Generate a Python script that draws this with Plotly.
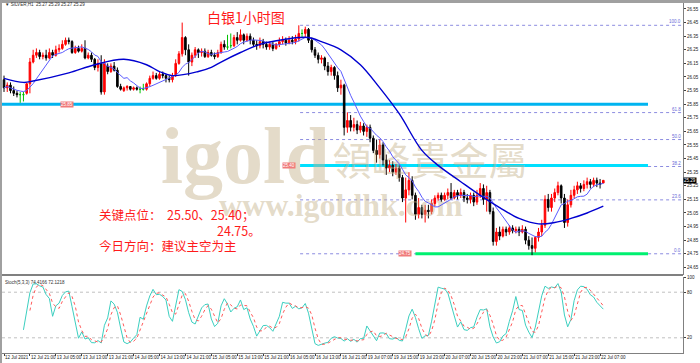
import plotly.graph_objects as go
import pandas as pd

# ---------------- data (SILVER H1) ----------------
open_ = [26.03,25.97,25.99,25.95,25.93,25.92,25.92,25.93,26.00,26.16,
         26.21,26.23,26.20,26.21,26.19,26.23,26.21,26.25,26.26,26.29,
         26.32,26.31,26.23,26.26,26.24,26.26,26.19,26.21,26.18,26.12,
         26.15,25.94,26.13,26.09,26.13,26.10,25.98,25.95,25.97,25.98,
         25.96,25.97,25.96,25.96,25.96,26.00,26.04,26.06,26.04,26.07,
         26.06,26.04,26.03,26.06,26.15,26.22,26.34,26.25,26.16,26.21,
         26.25,26.23,26.24,26.20,26.23,26.21,26.20,26.23,26.29,26.27,
         26.28,26.28,26.34,26.32,26.36,26.32,26.35,26.32,26.29,26.28,
         26.31,26.29,26.27,26.29,26.26,26.29,26.31,26.32,26.30,26.32,
         26.31,26.33,26.37,26.37,26.40,26.32,26.25,26.21,26.18,26.19,
         26.13,26.09,26.12,26.06,25.97,25.99,25.68,25.73,25.68,25.70,
         25.66,25.69,25.65,25.68,25.60,25.51,25.48,25.55,25.44,25.38,
         25.40,25.35,25.38,25.31,25.16,25.22,25.29,25.18,25.04,25.09,
         25.04,25.07,25.06,25.12,25.16,25.18,25.15,25.18,25.20,25.16,
         25.20,25.18,25.20,25.16,25.15,25.18,25.13,25.18,25.23,25.15,
         25.20,25.06,24.84,24.91,24.88,24.93,24.91,24.94,24.92,24.93,
         24.91,24.93,24.85,24.81,24.79,24.87,24.91,24.96,25.15,25.09,
         25.16,25.20,25.25,25.16,24.98,25.11,25.18,25.22,25.25,25.23,
         25.26,25.28,25.26,25.29,25.27,25.27]
high = [26.06,26.01,26.01,25.98,25.95,25.94,25.94,26.01,26.19,26.25,
        26.26,26.25,26.23,26.25,26.26,26.25,26.28,26.29,26.32,26.34,
        26.34,26.32,26.28,26.28,26.29,26.32,26.23,26.23,26.19,26.18,
        26.21,26.18,26.15,26.15,26.16,26.12,26.00,25.98,25.99,25.98,
        25.98,25.98,25.98,26.00,26.01,26.06,26.09,26.08,26.09,26.09,
        26.07,26.06,26.08,26.18,26.24,26.45,26.35,26.29,26.23,26.27,
        26.26,26.26,26.26,26.25,26.25,26.23,26.25,26.31,26.32,26.36,
        26.37,26.36,26.38,26.40,26.37,26.37,26.37,26.34,26.32,26.34,
        26.33,26.31,26.31,26.31,26.30,26.34,26.35,26.34,26.35,26.35,
        26.36,26.43,26.40,26.42,26.41,26.34,26.27,26.23,26.21,26.20,
        26.16,26.14,26.13,26.09,26.03,26.00,25.79,25.77,25.75,25.73,
        25.72,25.71,25.70,25.70,25.62,25.59,25.59,25.57,25.48,25.44,
        25.43,25.41,25.40,25.33,25.31,25.35,25.32,25.20,25.16,25.11,
        25.11,25.11,25.15,25.18,25.20,25.20,25.20,25.23,25.27,25.22,
        25.22,25.23,25.22,25.19,25.20,25.20,25.22,25.27,25.26,25.25,
        25.22,25.09,24.94,24.95,24.95,24.95,24.96,24.96,24.95,24.95,
        24.96,24.95,24.88,24.87,24.88,24.94,25.00,25.18,25.19,25.19,
        25.23,25.28,25.26,25.19,25.15,25.22,25.25,25.28,25.27,25.29,
        25.31,25.30,25.31,25.31,25.30,25.29]
low = [25.94,25.94,25.93,25.91,25.90,25.86,25.87,25.92,25.93,26.15,
       26.19,26.18,26.18,26.17,26.18,26.19,26.20,26.23,26.25,26.28,
       26.29,26.22,26.22,26.23,26.23,26.18,26.18,26.16,26.10,26.09,
       25.92,25.92,26.07,26.08,26.09,25.97,25.95,25.94,25.95,25.95,
       25.95,25.95,25.93,25.95,25.95,25.98,26.03,26.03,26.03,26.04,
       26.01,26.01,26.01,26.05,26.14,26.20,26.21,26.06,26.13,26.19,
       26.19,26.20,26.19,26.19,26.20,26.18,26.19,26.22,26.25,26.25,
       26.26,26.27,26.29,26.31,26.29,26.31,26.29,26.27,26.25,26.26,
       26.26,26.25,26.25,26.24,26.25,26.27,26.29,26.28,26.29,26.29,
       26.29,26.31,26.34,26.34,26.30,26.23,26.19,26.15,26.15,26.10,
       26.06,26.06,26.03,25.94,25.92,25.62,25.64,25.65,25.65,25.63,
       25.64,25.62,25.61,25.57,25.49,25.42,25.45,25.40,25.33,25.35,
       25.32,25.33,25.28,25.13,24.98,25.18,25.15,25.00,25.01,25.01,
       24.98,25.01,25.04,25.10,25.14,25.13,25.14,25.15,25.15,25.15,
       25.15,25.16,25.13,25.12,25.12,25.10,25.11,25.16,25.11,25.06,
       25.04,24.81,24.81,24.85,24.87,24.88,24.89,24.90,24.90,24.88,
       24.90,24.82,24.78,24.74,24.76,24.84,24.88,24.94,25.06,25.06,
       25.13,25.18,25.12,24.94,24.95,25.09,25.16,25.19,25.20,25.21,
       25.23,25.23,25.24,25.24,25.23,25.27]
close = [25.97,25.99,25.95,25.93,25.92,25.92,25.92,26.00,26.16,26.21,
         26.23,26.20,26.21,26.19,26.23,26.21,26.25,26.26,26.29,26.32,
         26.31,26.23,26.26,26.24,26.26,26.19,26.21,26.18,26.12,26.15,
         25.94,26.15,26.09,26.13,26.10,25.98,25.96,25.97,25.98,25.96,
         25.97,25.96,25.96,25.96,26.00,26.04,26.06,26.04,26.07,26.06,
         26.04,26.03,26.06,26.15,26.22,26.34,26.25,26.16,26.21,26.25,
         26.23,26.24,26.20,26.23,26.21,26.20,26.23,26.29,26.27,26.27,
         26.28,26.34,26.32,26.36,26.32,26.35,26.32,26.29,26.28,26.31,
         26.29,26.27,26.29,26.26,26.29,26.31,26.32,26.30,26.32,26.31,
         26.33,26.37,26.37,26.40,26.32,26.25,26.21,26.18,26.19,26.13,
         26.09,26.12,26.06,25.97,25.99,25.68,25.73,25.68,25.70,25.66,
         25.69,25.65,25.68,25.60,25.51,25.48,25.55,25.44,25.38,25.40,
         25.35,25.38,25.31,25.16,25.22,25.29,25.18,25.04,25.09,25.04,
         25.07,25.06,25.12,25.16,25.18,25.15,25.18,25.20,25.16,25.20,
         25.18,25.20,25.16,25.15,25.18,25.13,25.18,25.23,25.15,25.20,
         25.06,24.84,24.91,24.88,24.93,24.91,24.94,24.92,24.93,24.91,
         24.93,24.85,24.81,24.79,24.87,24.91,24.96,25.15,25.09,25.16,
         25.20,25.25,25.16,24.98,25.11,25.18,25.22,25.25,25.23,25.26,
         25.28,25.26,25.29,25.27,25.26,25.29]

# slow moving average, read at selected bars
ma_slow_bar = [0, 6, 9, 20, 28, 37, 44, 48, 52, 60, 64, 67, 73, 79, 85, 91, 94, 98,
               104, 110, 116, 122, 129, 134, 141, 147, 153, 159, 165, 170, 175, 180, 185]
ma_slow_val = [26.04, 26.01, 26.02, 26.08, 26.14, 26.18, 26.14, 26.09, 26.06, 26.09, 26.12,
               26.16, 26.23, 26.29, 26.32, 26.34, 26.34, 26.31, 26.25, 26.14, 25.97, 25.78,
               25.51, 25.40, 25.28, 25.18, 25.09, 25.01, 24.97, 24.98, 25.01, 25.05, 25.10]

tick_labels = ["12 Jul 2021", "12 Jul 21:00", "13 Jul 05:00", "13 Jul 13:00", "13 Jul 21:00",
               "14 Jul 05:00", "14 Jul 13:00", "14 Jul 21:00", "15 Jul 05:00", "15 Jul 13:00",
               "15 Jul 21:00", "16 Jul 05:00", "16 Jul 13:00", "16 Jul 21:00", "19 Jul 07:00",
               "19 Jul 15:00", "19 Jul 23:00", "20 Jul 07:00", "20 Jul 15:00", "20 Jul 23:00",
               "21 Jul 07:00", "21 Jul 15:00", "21 Jul 23:00", "22 Jul 07:00"]
price_ticks = [24.65, 24.75, 24.85, 24.95, 25.05, 25.15, 25.25, 25.35, 25.45, 25.55,
               25.65, 25.75, 25.85, 25.95, 26.05, 26.15, 26.25, 26.35, 26.45, 26.55]

support_levels = [25.85, 25.40, 24.75]
fib_high, fib_low = 26.43, 24.75
fib_levels = [100.0, 61.8, 50.0, 38.2, 23.6, 0.0]

# ---------------- derived ----------------
n = len(close)
bars = list(range(n))
df = pd.DataFrame({"o": open_, "h": high, "l": low, "c": close})
ma_fast = df.c.rolling(8, min_periods=1).mean()
ll = df.l.rolling(5).min()
hh = df.h.rolling(5).max()
k = 100 * (df.c - ll).rolling(3).sum() / (hh - ll).rolling(3).sum()
d = k.rolling(3).mean()

def subset(mask):
    idx = [i for i in bars if mask(i)]
    return (idx, [open_[i] for i in idx], [high[i] for i in idx],
            [low[i] for i in idx], [close[i] for i in idx])

fig = go.Figure()

# watermark (under candles)
wm = "rgba(195,175,135,0.45)"
fig.add_trace(go.Scatter(x=[74.5], y=[25.42], mode="text", text=["<b>igold</b>"],
                         textfont=dict(family="Liberation Serif", size=80, color=wm),
                         hoverinfo="skip", showlegend=False, xaxis="x", yaxis="y"))
fig.add_trace(go.Scatter(x=[131.5], y=[25.40], mode="text", text=["領峰貴金屬"],
                         textfont=dict(family="Noto Sans CJK TC", size=39, color=wm),
                         hoverinfo="skip", showlegend=False, xaxis="x", yaxis="y"))
fig.add_trace(go.Scatter(x=[104.0], y=[25.09], mode="text", text=["<b>www.igoldhk.com</b>"],
                         textfont=dict(family="Liberation Serif", size=32, color=wm),
                         hoverinfo="skip", showlegend=False, xaxis="x", yaxis="y"))

# candles
for mask, col in [
    (lambda i: close[i] > open_[i], "#ff0000"),
    (lambda i: close[i] < open_[i], "#000000"),
    (lambda i: close[i] == open_[i], "#00c000"),
]:
    xs, o, h, l, c = subset(mask)
    fig.add_trace(go.Candlestick(
        x=xs, open=o, high=h, low=l, close=c, xaxis="x", yaxis="y",
        increasing=dict(line=dict(color=col, width=1), fillcolor=col),
        decreasing=dict(line=dict(color=col, width=1), fillcolor=col),
        whiskerwidth=0, showlegend=False, hoverinfo="skip"))

fig.add_trace(go.Scatter(x=bars, y=ma_fast, mode="lines",
                         line=dict(color="#5a5aff", width=1), showlegend=False,
                         xaxis="x", yaxis="y", hoverinfo="skip"))
fig.add_trace(go.Scatter(x=ma_slow_bar, y=ma_slow_val, mode="lines",
                         line=dict(color="#0000d0", width=1.4, shape="spline"),
                         showlegend=False, xaxis="x", yaxis="y", hoverinfo="skip"))

# stochastic
fig.add_trace(go.Scatter(x=bars, y=[None if pd.isna(v) else v for v in k], mode="lines",
                         line=dict(color="#3ccfc0", width=1), showlegend=False,
                         xaxis="x2", yaxis="y2", hoverinfo="skip"))
fig.add_trace(go.Scatter(x=bars, y=[None if pd.isna(v) else v for v in d], mode="lines",
                         line=dict(color="#ff5a5a", width=1, dash="dot"), showlegend=False,
                         xaxis="x2", yaxis="y2", hoverinfo="skip"))

# ---------------- geometry ----------------
W, H = 700, 363
ml, mr, mt, mb = 2, 17, 3, 10
pw, ph = W - ml - mr, H - mt - mb
main_dom = [(ph - 272) / ph, 1.0]
stoch_dom = [0.0, (ph - 274) / ph]
xr = [-0.62, 209.6]

shapes = []
for lv in fib_levels:
    p = fib_low + (fib_high - fib_low) * lv / 100
    shapes.append(dict(type="line", xref="x", yref="y", x0=91.4, x1=xr[1], y0=p, y1=p,
                       line=dict(color="#8c8ce0", width=1, dash="dot"), layer="below"))
sup_start = [xr[0], 91.4, 127.0]
sup_col = ["#00b4f0", "#00e0ff", "#00f070"]
for lv, x0, col in zip(support_levels, sup_start, sup_col):
    shapes.append(dict(type="line", xref="x", yref="y", x0=x0, x1=198.8, y0=lv, y1=lv,
                       line=dict(color=col, width=3), layer="below"))
for lv in [80, 20]:
    shapes.append(dict(type="line", xref="paper", yref="y2", x0=0, x1=1, y0=lv, y1=lv,
                       line=dict(color="#c0c0c0", width=1, dash="dot"), layer="below"))
sep = main_dom[0]
shapes.append(dict(type="line", xref="paper", yref="paper", x0=0, x1=1, y0=sep, y1=sep,
                   line=dict(color="#808080", width=2)))
shapes.append(dict(type="rect", xref="paper", yref="paper", x0=-ml / pw, x1=0,
                   y0=-mb / ph, y1=1 + mt / ph, fillcolor="#a0a0a0", line=dict(width=0)))
shapes.append(dict(type="rect", xref="paper", yref="paper", x0=-ml / pw, x1=1 + mr / pw,
                   y0=1, y1=1 + mt / ph, fillcolor="#a0a0a0", line=dict(width=0)))

ann = []
red = "#ff1a1a"
def px2paper(xp, yp):
    return (xp - ml) / pw, (H - mb - yp) / ph

tx, ty = px2paper(246, 17)
ann.append(dict(x=tx, y=ty, xref="paper", yref="paper", text="白银1小时图", showarrow=False,
                xanchor="center", yanchor="middle",
                font=dict(family="Noto Sans CJK SC", size=14, color=red)))
for txt, xp, yp in [("关键点位：  25.50、25.40；", 97, 215), ("24.75。", 215, 230),
                    ("今日方向：建议主空为主", 97, 245)]:
    ax, ay = px2paper(xp, yp)
    ann.append(dict(x=ax, y=ay, xref="paper", yref="paper", text=txt, showarrow=False,
                    xanchor="left", yanchor="middle",
                    font=dict(family="Noto Sans CJK SC", size=12.5, color=red)))
hx, hy = px2paper(3, 5)
ann.append(dict(x=hx, y=hy, xref="paper", yref="paper", xanchor="left", yanchor="middle",
                text="▼ SILVER,H1  25.27 25.29 25.27 25.29", showarrow=False,
                font=dict(family="Liberation Sans", size=4.5, color="#303030")))
sx, sy = px2paper(3, 282)
ann.append(dict(x=sx, y=sy, xref="paper", yref="paper", xanchor="left", yanchor="middle",
                text="Stoch(5,3,3) 74.4166 72.1218", showarrow=False,
                font=dict(family="Liberation Sans", size=4.5, color="#303030")))
for lv in fib_levels:
    p = fib_low + (fib_high - fib_low) * lv / 100
    ann.append(dict(x=1, y=p, xref="paper", yref="y", xanchor="right", yanchor="bottom",
                    text=f"{lv:.1f}", showarrow=False, yshift=-1,
                    font=dict(family="Liberation Sans", size=4.5, color="#6a6ad8")))
for lv, xb in zip(support_levels, [19.3, 88.1, 123.9]):
    ann.append(dict(x=xb, y=lv, xref="x", yref="y", text=f"{lv:.2f}", showarrow=False,
                    bgcolor="#f07b7b", borderpad=0,
                    font=dict(family="Liberation Sans", size=4.5, color="#ffffff")))
ann.append(dict(x=1, y=close[-1], xref="paper", yref="y", xanchor="left", text=f"{close[-1]:.2f}",
                showarrow=False, bgcolor="#000000", borderpad=0,
                font=dict(family="Liberation Sans", size=4.5, color="#ffffff")))

tickfont = dict(family="Liberation Sans", size=4.5, color="#202020")
fig.update_layout(
    width=W, height=H, margin=dict(l=ml, r=mr, t=mt, b=mb, autoexpand=False),
    paper_bgcolor="#ffffff", plot_bgcolor="#ffffff", showlegend=False,
    shapes=shapes, annotations=ann,
    xaxis=dict(domain=[0, 1], range=xr, anchor="y", showticklabels=False, ticks="",
               showgrid=False, zeroline=False, automargin=False,
               rangeslider=dict(visible=False)),
    yaxis=dict(domain=main_dom, range=[24.594, 26.594], side="right", tickvals=price_ticks,
               ticktext=[f"{v:.2f}" for v in price_ticks], ticks="outside", ticklen=2,
               tickcolor="#404040", tickfont=tickfont, automargin=False,
               showline=True, linecolor="#808080", linewidth=1, showgrid=False, zeroline=False),
    xaxis2=dict(domain=[0, 1], range=xr, anchor="y2", matches="x",
                tickvals=[8 * j for j in range(len(tick_labels))], ticktext=tick_labels,
                tickangle=0, ticklabelposition="outside right", ticks="outside", ticklen=2,
                tickcolor="#404040", tickfont=tickfont, automargin=False,
                showline=True, linecolor="#808080", linewidth=1, showgrid=False, zeroline=False,
                rangeslider=dict(visible=False)),
    yaxis2=dict(domain=stoch_dom, range=[0, 100], side="right", tickvals=[20, 80, 100],
                ticks="outside", ticklen=2, tickcolor="#404040", tickfont=tickfont,
                automargin=False, showline=True, linecolor="#808080", linewidth=1,
                showgrid=False, zeroline=False),
)

fig.write_html("out.html")
